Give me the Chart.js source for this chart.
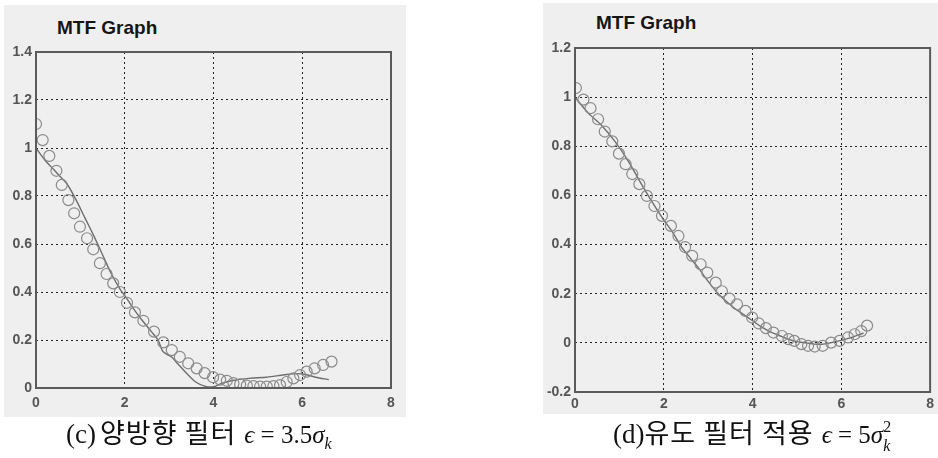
<!DOCTYPE html>
<html>
<head>
<meta charset="utf-8">
<script src="https://cdn.jsdelivr.net/npm/chart.js@4.4.0/dist/chart.umd.min.js"></script>
<style>
  html,body{margin:0;padding:0;background:#fff;}
  #root{position:relative;width:938px;height:458px;overflow:hidden;}
  .panel{position:absolute;background:#efefef;}
  .title{position:absolute;font-family:"Liberation Sans",Arial,sans-serif;font-weight:bold;font-size:19px;color:#151515;white-space:nowrap;line-height:1;}
  canvas{position:absolute;}
  .cap{position:absolute;white-space:nowrap;color:#111;line-height:1;}
  .ser{font-family:"Liberation Serif","DejaVu Serif",serif;font-size:27px;}
  .kr{font-family:"Noto Sans CJK KR",sans-serif;font-size:27px;letter-spacing:1px;}
  .m{font-family:"Liberation Serif","DejaVu Serif",serif;font-size:25px;}
  .mi{font-style:italic;}
  sub{font-size:16px;font-style:italic;}
</style>
</head>
<body>
<div id="root">
  <div class="panel" style="left:4px;top:5px;width:402px;height:412px;"></div>
  <div class="panel" style="left:543px;top:3px;width:395px;height:411px;"></div>
  <div class="title" style="left:57px;top:18px;">MTF Graph</div>
  <div class="title" style="left:596px;top:13px;">MTF Graph</div>
  <canvas id="c1" width="410" height="420" style="left:0;top:0;width:410px;height:420px;"></canvas>
  <canvas id="c2" width="398" height="420" style="left:540px;top:0;width:398px;height:420px;"></canvas>
  <div class="cap" style="left:66px;top:418px;"><span class="ser">(c)</span> <span class="kr">양방향 필터</span>&nbsp; <span class="m"><span class="mi">ϵ</span> = 3.5<span class="mi">σ</span><sub>k</sub></span></div>
  <div class="cap" style="left:613px;top:418px;"><span class="ser">(d)</span><span class="kr">유도 필터 적용</span>&nbsp; <span class="m"><span class="mi">ϵ</span> = 5<span class="mi">σ</span><span style="display:inline-block;position:relative;width:10px;height:1px;"><span style="position:absolute;left:0;top:-23px;font-size:16px;">2</span><span style="position:absolute;left:0;top:-4px;font-size:16px;font-style:italic;">k</span></span></span></div>
</div>
<script>
// ---- data: chart (c) ----
const cCircleX = [0,0.15,0.30,0.46,0.58,0.73,0.86,0.99,1.15,1.29,1.44,1.59,1.74,1.89,2.05,2.23,2.42,2.66,2.87,3.06,3.24,3.43,3.62,3.80,3.99,4.15,4.30,4.45,4.60,4.75,4.90,5.05,5.20,5.35,5.50,5.65,5.80,5.95,6.10,6.28,6.47,6.66];
const cCircleY = [1.10,1.033,0.967,0.905,0.846,0.783,0.728,0.672,0.624,0.578,0.52,0.475,0.436,0.40,0.355,0.315,0.28,0.235,0.19,0.158,0.13,0.103,0.082,0.062,0.045,0.035,0.03,0.02,0.015,0.01,0.008,0.006,0.006,0.008,0.012,0.025,0.04,0.054,0.068,0.082,0.096,0.11];
const cLineX = [0,0.2,0.4,0.55,0.7,0.9,1.1,1.3,1.5,1.7,1.9,2.0,2.2,2.4,2.6,2.75,2.85,2.95,3.05,3.2,3.4,3.6,3.8,4.0,4.2,4.4,4.8,5.2,5.6,5.9,6.1,6.3,6.6];
const cLineY = [1.0,0.95,0.91,0.88,0.85,0.785,0.71,0.635,0.555,0.475,0.41,0.385,0.33,0.28,0.235,0.2,0.155,0.14,0.13,0.1,0.06,0.025,0.008,0.005,0.02,0.03,0.04,0.045,0.055,0.06,0.055,0.045,0.035];
const cYTicks = [0,0.2,0.4,0.6,0.8,1.0,1.2,1.4];
const cYTickLabels = ['0','0.2','0.4','0.6','0.8','1','1.2','1.4'];

// ---- data: chart (d) ----
const dCircleX = [0.02,0.19,0.35,0.52,0.67,0.84,0.99,1.14,1.29,1.45,1.62,1.79,1.96,2.16,2.33,2.48,2.64,2.83,2.98,3.17,3.31,3.48,3.65,3.84,3.99,4.14,4.30,4.47,4.66,4.81,4.94,5.10,5.25,5.40,5.58,5.77,5.96,6.15,6.30,6.45,6.58];
const dCircleY = [1.037,0.99,0.955,0.91,0.86,0.82,0.77,0.727,0.687,0.646,0.598,0.557,0.517,0.476,0.435,0.39,0.354,0.32,0.286,0.245,0.21,0.18,0.157,0.13,0.103,0.079,0.06,0.042,0.028,0.015,0.008,-0.005,-0.012,-0.015,-0.012,0.001,0.008,0.022,0.035,0.048,0.07];
const dLineX = [0,0.3,0.6,0.9,1.2,1.5,1.8,2.0,2.2,2.4,2.6,2.8,3.0,3.2,3.4,3.6,3.8,4.0,4.2,4.4,4.6,4.8,5.0,5.2,5.4,5.6,5.8,6.0,6.2,6.5];
const dLineY = [1.0,0.935,0.885,0.82,0.74,0.645,0.555,0.5,0.45,0.39,0.345,0.3,0.25,0.205,0.17,0.14,0.115,0.09,0.065,0.045,0.03,0.015,0.005,0.0,-0.005,-0.005,0.002,0.01,0.02,0.04];
const dYTicks = [-0.2,0,0.2,0.4,0.6,0.8,1.0,1.2];
const dYTickLabels = ['-0.2','0','0.2','0.4','0.6','0.8','1','1.2'];

const xTicks = [0,2,4,6,8];
const xTickLabels = ['0','2','4','6','8'];

const frame = {
  id:'frame',
  afterDraw(chart){
    const a = chart.chartArea, ctx = chart.ctx;
    ctx.save();
    ctx.strokeStyle = '#5a5a5a';
    ctx.lineWidth = 2;
    ctx.strokeRect(a.left, a.top, a.right - a.left, a.bottom - a.top);
    ctx.restore();
  }
};

function pts(xs, ys){ return xs.map((x,i)=>({x, y: ys[i]})); }

function make(id, cx, cy, lx, ly, yTicks, yLabels, yMin, yMax, yW, xH, xPad, pad){
  const tickFont = {family:'"Liberation Sans", Arial, sans-serif', size:14, weight:'bold'};
  new Chart(document.getElementById(id), {
    type:'scatter',
    data:{datasets:[
      {data: pts(cx, cy), showLine:false, pointStyle:'circle', pointRadius:5.5, pointBorderWidth:1.2,
       borderColor:'#8a8a8a', backgroundColor:'rgba(0,0,0,0)', pointBackgroundColor:'rgba(0,0,0,0)'},
      {data: pts(lx, ly), showLine:true, pointRadius:0, borderColor:'#6e6e6e', borderWidth:1.4, tension:0.3, fill:false}
    ]},
    options:{
      responsive:false, animation:false, devicePixelRatio:1,
      layout:{padding:pad},
      plugins:{legend:{display:false}, tooltip:{enabled:false}},
      scales:{
        x:{type:'linear', min:0, max:8,
           afterBuildTicks(s){ s.ticks = xTicks.map(v=>({value:v})); },
           afterFit(s){ s.height = xH; },
           ticks:{callback:(v,i)=>xTickLabels[i], font:tickFont, color:'#555', padding:xPad, maxRotation:0},
           grid:{color:'#222', lineWidth:1, drawTicks:false},
           border:{display:false, dash:[2,3]}},
        y:{type:'linear', min:yMin, max:yMax,
           afterBuildTicks(s){ s.ticks = yTicks.map(v=>({value:v})); },
           afterFit(s){ s.width = yW; },
           ticks:{callback:(v,i)=>yLabels[i], font:tickFont, color:'#555', padding:4},
           grid:{color:'#222', lineWidth:1, drawTicks:false},
           border:{display:false, dash:[2,3]}}
      }
    },
    plugins:[frame]
  });
}

make('c1', cCircleX, cCircleY, cLineX, cLineY, cYTicks, cYTickLabels, 0, 1.4, 36, 30, 7, {top:52, right:19, bottom:2, left:0});
make('c2', dCircleX, dCircleY, dLineX, dLineY, dYTicks, dYTickLabels, -0.2, 1.2, 35, 26, 4, {top:48, right:5, bottom:2, left:0});
</script>
</body>
</html>
